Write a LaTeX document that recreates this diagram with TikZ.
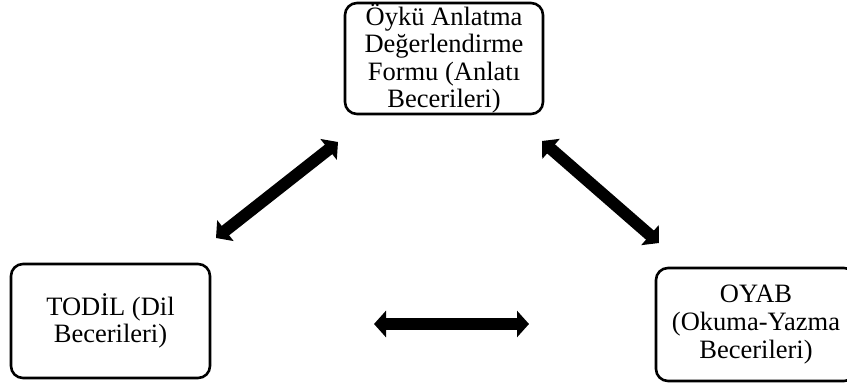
\documentclass[tikz,border=0pt]{standalone}
\usepackage{fontspec}
\setmainfont{Liberation Serif}
\usetikzlibrary{arrows.meta}
\begin{document}
\begin{tikzpicture}[x=1pt,y=-1pt,
  box/.style={draw,line width=2.6pt,rounded corners=12pt,align=center,inner sep=0pt,
    font=\fontsize{26.5}{27.6}\selectfont},
  bigarrow/.style={line width=12pt,{Triangle[width=26pt,length=12pt]}-{Triangle[width=26pt,length=12pt]}}]
\useasboundingbox (0,0) rectangle (847,388);
\clip (0,0) rectangle (847,388);
\node[box,minimum width=198pt,minimum height=111pt] (top) at (444,58.5)
  {Öykü Anlatma\\Değerlendirme\\Formu (Anlatı\\Becerileri)};
\node[box,minimum width=199pt,minimum height=114pt] (left) at (110.5,321)
  {TODİL (Dil\\Becerileri)};
\node[box,minimum width=200pt,minimum height=113pt] (right) at (756,324.5)
  {OYAB\\(Okuma-Yazma\\Becerileri)};
\coordinate (a1) at (216,238);
\coordinate (a2) at (338,142);
\coordinate (b1) at (542,141);
\coordinate (b2) at (659,243);
\coordinate (c1) at (374,324);
\coordinate (c2) at (529,324);
\draw[bigarrow] (a1) -- (a2);
\draw[bigarrow] (b1) -- (b2);
\draw[bigarrow] (c1) -- (c2);
\end{tikzpicture}
\end{document}
